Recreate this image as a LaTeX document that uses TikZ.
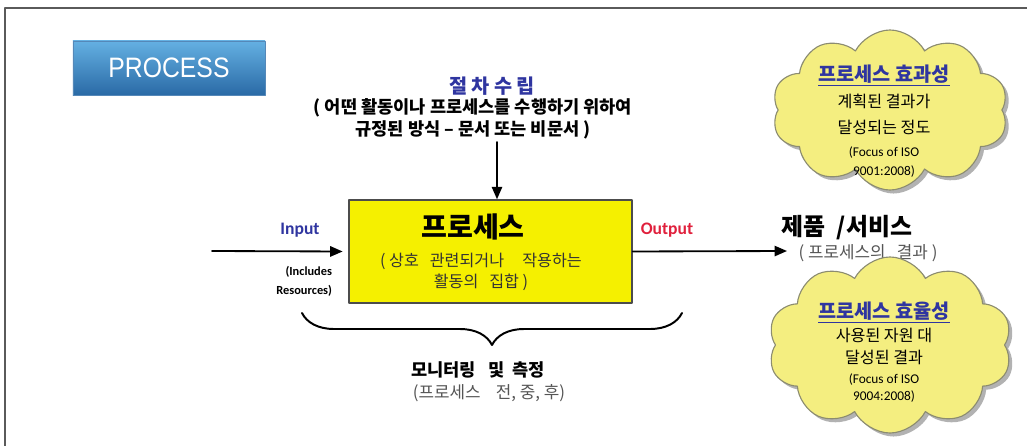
\documentclass[tikz,border=0pt]{standalone}
\usepackage{fontspec}
\setmainfont{Carlito}
\newfontfamily\kr{Noto Sans CJK KR}
\newfontfamily\btnfont[FakeStretch=0.88]{Liberation Sans}
\usetikzlibrary{calc,arrows.meta,positioning,shapes.symbols,shadows,decorations.pathreplacing}
\definecolor{frameGray}{HTML}{5A5A5A}
\definecolor{procYellow}{HTML}{F5F000}
\definecolor{cloudYellow}{HTML}{F4EE80}
\definecolor{cloudEdge}{HTML}{8C8C70}
\definecolor{headBlue}{HTML}{2F35A0}
\definecolor{outRed}{HTML}{E0203C}
\definecolor{btnTop}{HTML}{64B0E2}
\definecolor{btnBot}{HTML}{2A6AA6}
\definecolor{softGray}{HTML}{555555}

\begin{document}
\begin{tikzpicture}[line cap=round,line join=round,x=0.025cm,y=-0.025cm,
  arr/.style={line width=1.3pt,-{Stealth[scale=1,angle'=45,inset=0pt]}},
  brace/.style={decorate,decoration={brace,amplitude=0.8cm,mirror},line width=1.4pt},
  btn/.style={minimum width=4.8cm,minimum height=1.35cm,top color=btnTop,bottom color=btnBot,
    draw=btnBot!80,line width=0.3pt,text=white,font=\btnfont\fontsize{20}{24}\selectfont},
  procbox/.style={draw=black!70,line width=1pt,fill=procYellow,minimum width=7.075cm,minimum height=2.575cm,inner sep=0pt},
  puff/.style={cloud,cloud puffs=10,cloud puff arc=125,aspect=1.5,draw=cloudEdge,line width=0.8pt,fill=cloudYellow,
    drop shadow={shadow xshift=2.5pt,shadow yshift=-2.5pt,fill=black!60}},
  krbold/.style={font=\kr\bfseries#1},
  krtext/.style={font=\kr#1,text=softGray},
  cloudtext/.style={align=center,inner sep=0pt,font=\kr\fontsize{11.5}{#1}\selectfont}
]
\useasboundingbox (0,0) rectangle (1027,446);
\draw[frameGray,line width=1.4pt] (5,446) -- (5,8) -- (1027,8);

\node[btn] (title) at (169,68) {PROCESS};

% procedure
\node[krbold={\fontsize{14}{16}\selectfont},text=headBlue] (plan) at (492,86) {절~차~수~립};
\node[krbold={\fontsize{12.5}{16}\selectfont},align=center] (plandesc) at (473,119)
  {( 어떤 활동이나 프로세스를 수행하기 위하여\\규정된 방식 – 문서 또는 비문서 )};

% process box
\node[procbox] (proc) at (490.5,251.5) {};
\node[krbold={\fontsize{20}{22}\selectfont}] (procname) at (473,227) {프로세스};
\node[krtext={\fontsize{11.5}{15}\selectfont},text=black!80,align=center] (procdesc) at (481,272)
  {( 상호~~~관련되거나~~~~~작용하는\\활동의~~~집합 )};

\coordinate (ptop) at (497,142);
\coordinate (inS) at (212,251);
\coordinate (outE) at (787,251);
\draw[arr] (ptop) -- (ptop |- proc.north);
\draw[arr] (inS) -- ([xshift=-4pt]proc.west);
\draw[arr] (proc.east) -- (outE);

\node[font=\bfseries\fontsize{12.5}{15}\selectfont,text=headBlue] (inlab) at (300,230) {Input};
\node[font=\bfseries\fontsize{8.8}{13.5}\selectfont,align=right,anchor=east] (res) at (337,281) {(Includes\\Resources)};
\node[font=\bfseries\fontsize{12.5}{15}\selectfont,text=outRed] (outlab) at (667,230) {Output};

\node[krbold={\fontsize{17}{19}\selectfont}] (prod) at (847,228) {제품~~/서비스};
\node[krtext={\fontsize{12}{14}\selectfont}] (prodnote) at (868,253) {(~프로세스의~~~결과~)};

% monitoring
\coordinate (bl) at (302,313);
\coordinate (br) at (682,313);
\draw[brace] (bl) -- (br);
\node[krbold={\fontsize{12.5}{14}\selectfont}] (mon) at (478,370) {모니터링~~~및~~측정};
\node[krtext={\fontsize{12}{14}\selectfont}] (monnote) at (489,393) {(프로세스~~~~전,~중,~후)};

% clouds
\node[puff,minimum width=5.9cm,minimum height=4cm] (effcloud) at (890,110) {};
\node[puff,minimum width=6.1cm,minimum height=4.4cm] (efficloud) at (890,345) {};
\node[cloudtext=18.5] (efftext) at (884,121)
  {{\bfseries\fontsize{14}{18}\selectfont\color{headBlue}\underline{프로세스 효과성}}\\계획된 결과가\\달성되는 정도\\[-2pt]
   {\rmfamily\fontsize{9.5}{12}\selectfont (Focus of ISO}\\[-5pt]{\rmfamily\fontsize{9.5}{12}\selectfont 9001:2008)}};
\node[cloudtext=16] (efftext2) at (884,352)
  {{\bfseries\fontsize{14}{18}\selectfont\color{headBlue}\underline{프로세스 효율성}}\\사용된 자원 대\\달성된 결과\\[-2pt]
   {\rmfamily\fontsize{9.5}{12}\selectfont (Focus of ISO}\\[-4pt]{\rmfamily\fontsize{9.5}{12}\selectfont 9004:2008)}};
\end{tikzpicture}
\end{document}
